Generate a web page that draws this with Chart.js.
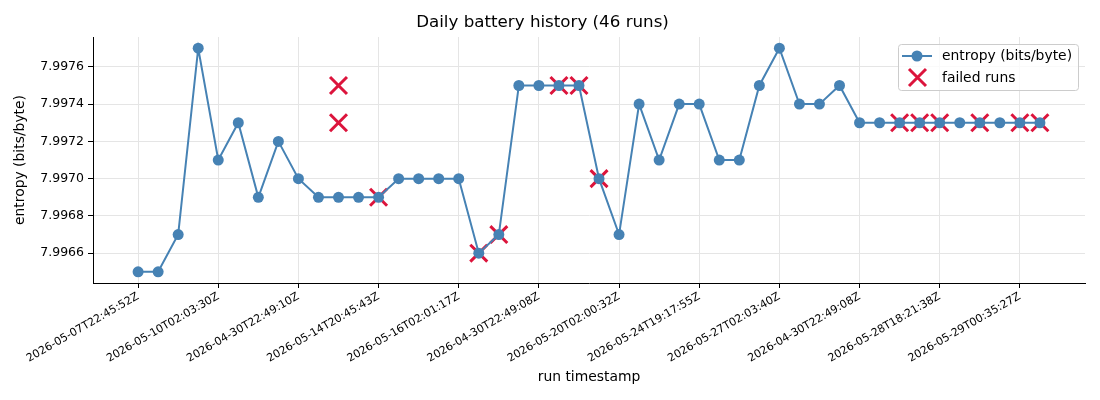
<!DOCTYPE html>
<html>
<head>
<meta charset="utf-8">
<script src="https://cdn.jsdelivr.net/npm/chart.js@4.4.1/dist/chart.umd.min.js"></script>
<style>
  html, body { margin: 0; padding: 0; background: #fff; }
</style>
</head>
<body>
<canvas id="myChart" width="1100" height="400"></canvas>
<script>
// entropy per run, index = run number
const entropy = [7.9965, 7.9965, 7.9967, 7.9977, 7.9971, 7.9973, 7.9969, 7.9972, 7.9970, 7.9969,
  7.9969, 7.9969, 7.9969, 7.9970, 7.9970, 7.9970, 7.9970, 7.9966, 7.9967, 7.9975,
  7.9975, 7.9975, 7.9975, 7.9970, 7.9967, 7.9974, 7.9971, 7.9974, 7.9974, 7.9971,
  7.9971, 7.9975, 7.9977, 7.9974, 7.9974, 7.9975, 7.9973, 7.9973, 7.9973, 7.9973,
  7.9973, 7.9973, 7.9973, 7.9973, 7.9973, 7.9973];

// failed runs
const failedRuns = [10, 10, 12, 17, 18, 21, 22, 23, 38, 39, 40, 42, 44, 45];
const failedValues = [7.9975, 7.9973, 7.9969, 7.9966, 7.9967, 7.9975, 7.9975, 7.9970,
  7.9973, 7.9973, 7.9973, 7.9973, 7.9973, 7.9973];

const tickRuns = [0, 4, 8, 12, 16, 20, 24, 28, 32, 36, 40, 44];
const tickLabels = ['2026-05-07T22:45:52Z', '2026-05-10T02:03:30Z', '2026-04-30T22:49:10Z',
  '2026-05-14T20:45:43Z', '2026-05-16T02:01:17Z', '2026-04-30T22:49:08Z',
  '2026-05-20T02:00:32Z', '2026-05-24T19:17:55Z', '2026-05-27T02:03:40Z',
  '2026-04-30T22:49:08Z', '2026-05-28T18:21:38Z', '2026-05-29T00:35:27Z'];
const yTicks = [7.9966, 7.9968, 7.9970, 7.9972, 7.9974, 7.9976];

const FONT = 'DejaVu Sans';
const BLUE = '#4682b4';
const RED = '#dc143c';
const GRID = '#e5e5e5';

let ctx = document.getElementById('myChart').getContext('2d');

// matplotlib style legend box in upper right
const boxLegend = {
  id: 'boxLegend',
  afterDraw(chart) {
    const c = chart.ctx;
    const x = 898, y = 44, w = 180, h = 46;
    c.save();
    c.fillStyle = 'rgba(255,255,255,0.8)';
    c.strokeStyle = '#cccccc';
    c.lineWidth = 1;
    c.beginPath();
    c.roundRect(x + 0.5, y + 0.5, w, h, 3);
    c.fill();
    c.stroke();

    // line + marker
    c.strokeStyle = BLUE;
    c.lineWidth = 2;
    c.beginPath();
    c.moveTo(902, 56);
    c.lineTo(932, 56);
    c.stroke();
    c.fillStyle = BLUE;
    c.beginPath();
    c.arc(917, 56, 5.5, 0, Math.PI * 2);
    c.fill();

    // cross
    c.strokeStyle = RED;
    c.lineWidth = 3;
    c.beginPath();
    c.moveTo(909, 69); c.lineTo(926, 86);
    c.moveTo(926, 69); c.lineTo(909, 86);
    c.stroke();

    c.fillStyle = '#000';
    c.font = '13.9px "' + FONT + '"';
    c.textBaseline = 'middle';
    c.textAlign = 'left';
    c.fillText('entropy (bits/byte)', 942, 56);
    c.fillText('failed runs', 942, 78);
    c.restore();
  }
};

const myChart = new Chart(ctx, {
  type: 'line',
  data: {
    datasets: [{
      label: 'entropy (bits/byte)',
      data: entropy.map((v, i) => ({ x: i, y: v })),
      borderColor: BLUE,
      backgroundColor: BLUE,
      borderWidth: 2,
      pointRadius: 5.5,
      pointBorderWidth: 0,
      pointBackgroundColor: BLUE,
      tension: 0,
      order: 0
    }, {
      label: 'failed runs',
      type: 'scatter',
      data: failedRuns.map((r, i) => ({ x: r, y: failedValues[i] })),
      pointStyle: 'crossRot',
      pointRadius: 12,
      pointBorderWidth: 3,
      borderColor: RED,
      backgroundColor: RED,
      showLine: false,
      order: 1
    }]
  },
  options: {
    responsive: false,
    animation: false,
    devicePixelRatio: 1,
    layout: { padding: { left: 0, right: 15, top: 0, bottom: 0 } },
    plugins: {
      legend: { display: false },
      tooltip: { enabled: false },
      title: {
        display: true,
        text: 'Daily battery history (46 runs)',
        color: '#000',
        font: { family: FONT, size: 16.7, weight: 'normal' },
        padding: { top: 13, bottom: 4 }
      }
    },
    scales: {
      x: {
        type: 'linear',
        min: -2.25,
        max: 47.25,
        afterBuildTicks: (scale) => { scale.ticks = tickRuns.map(v => ({ value: v })); },
        afterFit: (scale) => { scale.height = 117; },
        ticks: {
          autoSkip: false,
          minRotation: 30,
          maxRotation: 30,
          color: '#000',
          padding: 2,
          font: { family: FONT, size: 11 },
          callback: (v) => tickLabels[tickRuns.indexOf(v)]
        },
        grid: { color: GRID, tickColor: '#000', tickLength: 5 },
        border: { display: true, color: '#000', width: 1 },
        title: {
          display: true,
          text: 'run timestamp',
          color: '#000',
          font: { family: FONT, size: 13.9 },
          padding: { top: 4, bottom: 14 }
        }
      },
      y: {
        min: 7.99644,
        max: 7.99776,
        afterBuildTicks: (scale) => { scale.ticks = yTicks.map(v => ({ value: v })); },
        afterFit: (scale) => { scale.width = 93; },
        ticks: {
          color: '#000',
          padding: 4,
          font: { family: FONT, size: 12.5 },
          callback: (v) => v.toFixed(4)
        },
        grid: { color: GRID, tickColor: '#000', tickLength: 5 },
        border: { display: true, color: '#000', width: 1 },
        title: {
          display: true,
          text: 'entropy (bits/byte)',
          color: '#000',
          font: { family: FONT, size: 13.9 },
          padding: { top: 12, bottom: 0 }
        }
      }
    }
  },
  plugins: [boxLegend]
});
</script>
</body>
</html>
